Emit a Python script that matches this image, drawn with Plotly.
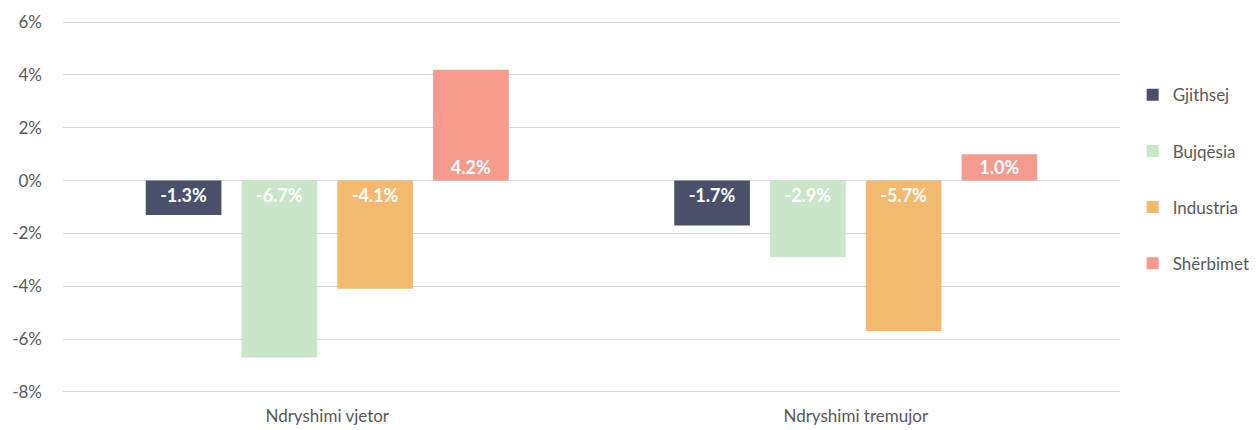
import plotly.graph_objects as go

# =========================================================
# Data
# =========================================================
categories = ["Ndryshimi vjetor", "Ndryshimi tremujor"]
series_names = ["Gjithsej", "Bujqësia", "Industria", "Shërbimet"]
gjithsej = [-1.3, -1.7]
bujqesia = [-6.7, -2.9]
industria = [-4.1, -5.7]
sherbimet = [4.2, 1.0]
y_ticks = [-8, -6, -4, -2, 0, 2, 4, 6]
y_tick_labels = [f"{v}%" for v in y_ticks]

colors = ["#4a5069", "#c9e6c9", "#f3b96e", "#f59a8d"]
values = [gjithsej, bujqesia, industria, sherbimet]

FONT = "Lato, 'Open Sans', sans-serif"

fig = go.Figure()
for idx, (name, vals) in enumerate(zip(series_names, values)):
    fig.add_trace(
        go.Bar(
            x=categories,
            y=vals,
            name=name,
            legendgroup=name,
            marker=dict(color=colors[idx], line=dict(width=0)),
            text=[f"{v:.1f}%" for v in vals],
            textposition="inside",
            insidetextanchor="start",
            textangle=0,
            textfont=dict(color="white", size=18, family=FONT, weight="bold"),
        )
    )

# the page body adds an 8px offset, so the figure is a bit smaller than the window
fig.update_layout(
    width=1249,
    height=422,
    barmode="group",
    bargap=0.275,
    bargroupgap=0.21,
    plot_bgcolor="white",
    paper_bgcolor="white",
    font=dict(family=FONT, size=17, color="#595959"),
    margin=dict(l=55, r=137, t=11, b=35, autoexpand=False),
    uniformtext=dict(mode="show", minsize=18),
    legend=dict(
        x=1.012,
        y=0.845,
        xanchor="left",
        yanchor="top",
        tracegroupgap=31,
        font=dict(size=17, color="#595959"),
        itemwidth=30,
    ),
    xaxis=dict(showline=False, ticks="", tickfont=dict(size=17),
               automargin=False, ticklabelstandoff=9),
    yaxis=dict(
        range=[-8.12, 6.12],
        tickvals=y_ticks,
        ticktext=y_tick_labels,
        showgrid=True,
        gridcolor="#d9d9d9",
        gridwidth=1,
        zeroline=True,
        zerolinecolor="#d9d9d9",
        zerolinewidth=1,
        ticks="",
        ticklabelstandoff=20,
        tickfont=dict(size=17),
        automargin=False,
    ),
)

fig.write_html("out.html")
